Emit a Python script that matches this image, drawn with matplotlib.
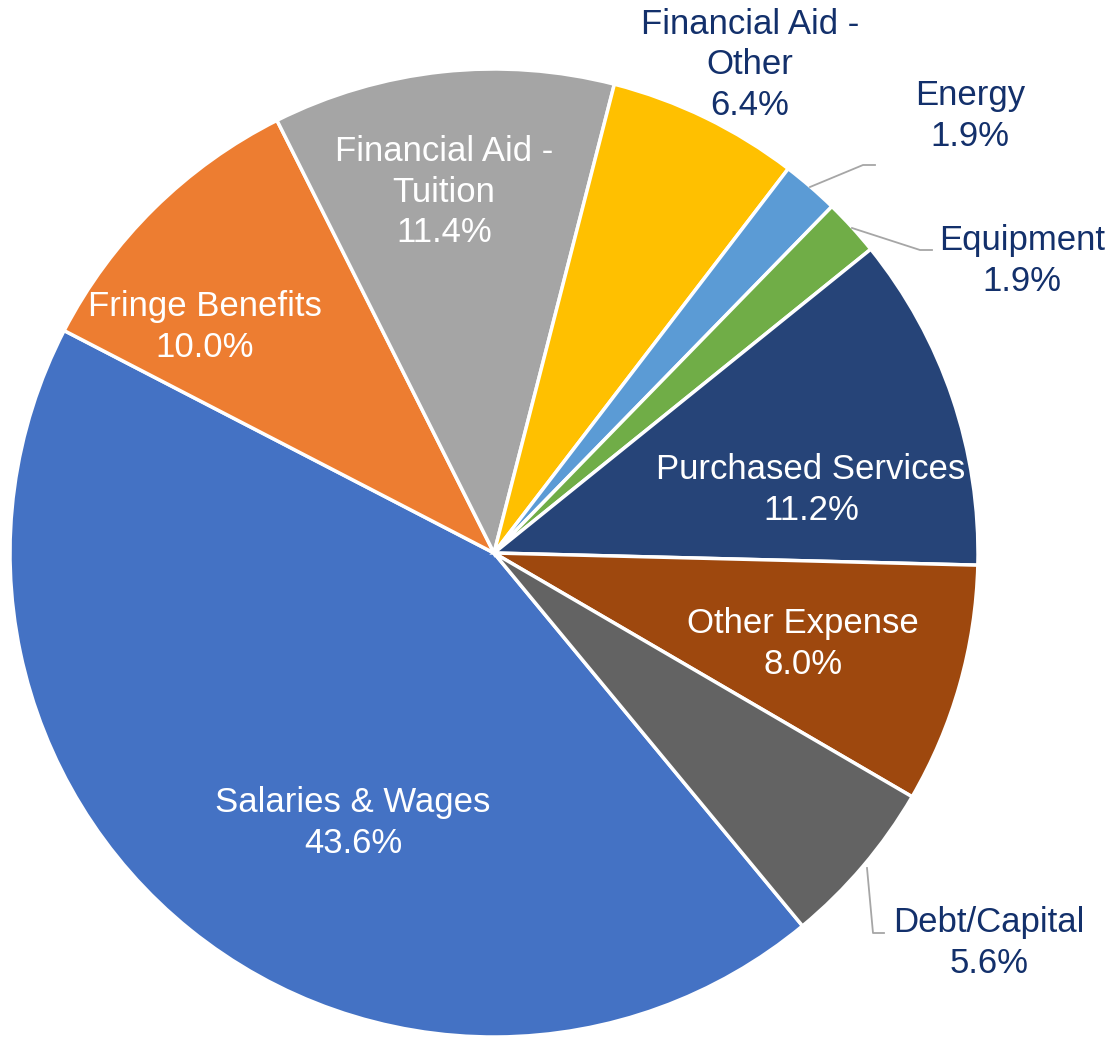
import matplotlib.pyplot as plt

# data
categories = ['Salaries & Wages', 'Fringe Benefits', 'Financial Aid - Tuition',
              'Financial Aid - Other', 'Energy', 'Equipment',
              'Purchased Services', 'Other Expense', 'Debt/Capital']
shares = [43.6, 10.0, 11.4, 6.4, 1.9, 1.9, 11.2, 8.0, 5.6]

colors = ['#4472C4', '#ED7D31', '#A5A5A5', '#FFC000', '#5B9BD5', '#70AD47',
          '#264478', '#9E480E', '#636363']
outside = ['Financial Aid - Other', 'Energy', 'Equipment', 'Debt/Capital']
navy = '#13306B'

# label centres, in pixels from the top left
label_pos = {
    'Salaries & Wages': (353, 823),
    'Fringe Benefits': (205, 327),
    'Financial Aid - Tuition': (444, 192),
    'Financial Aid - Other': (750, 65),
    'Energy': (970, 116),
    'Equipment': (1022, 261),
    'Purchased Services': (811, 490),
    'Other Expense': (803, 644),
    'Debt/Capital': (989, 943),
}
# leader lines (pixels from the top left)
leaders = {
    'Energy': [(810, 187), (863, 165), (875, 165)],
    'Equipment': [(852, 228), (920, 250), (932, 250)],
    'Debt/Capital': [(867, 868), (873, 933), (884, 933)],
}

W, H = 1112, 1037
cx, cy, r = 494, 553, 484

plt.rcParams['font.family'] = ['Liberation Sans', 'DejaVu Sans']
fig = plt.figure(figsize=(W / 100, H / 100), dpi=100)
ax = fig.add_axes([0, 0, 1, 1])

ax.pie(shares, colors=colors, startangle=-50.4, counterclock=False,
       center=(cx, H - cy), radius=r,
       wedgeprops=dict(edgecolor='white', linewidth=2.5))
ax.set_xlim(0, W)
ax.set_ylim(0, H)
ax.set_aspect('equal')
ax.axis('off')

for name, val in zip(categories, shares):
    px, py = label_pos[name]
    txt = name.replace('Aid - ', 'Aid -\n') + '\n%.1f%%' % val
    col = navy if name in outside else 'white'
    ax.text(px, H - py, txt, ha='center', va='center', fontsize=25,
            color=col, linespacing=1.3)

for name, pts in leaders.items():
    xs = [p[0] for p in pts]
    ys = [H - p[1] for p in pts]
    ax.plot(xs, ys, color='#A6A6A6', lw=1.3)

fig.savefig('out.png', dpi=100)
